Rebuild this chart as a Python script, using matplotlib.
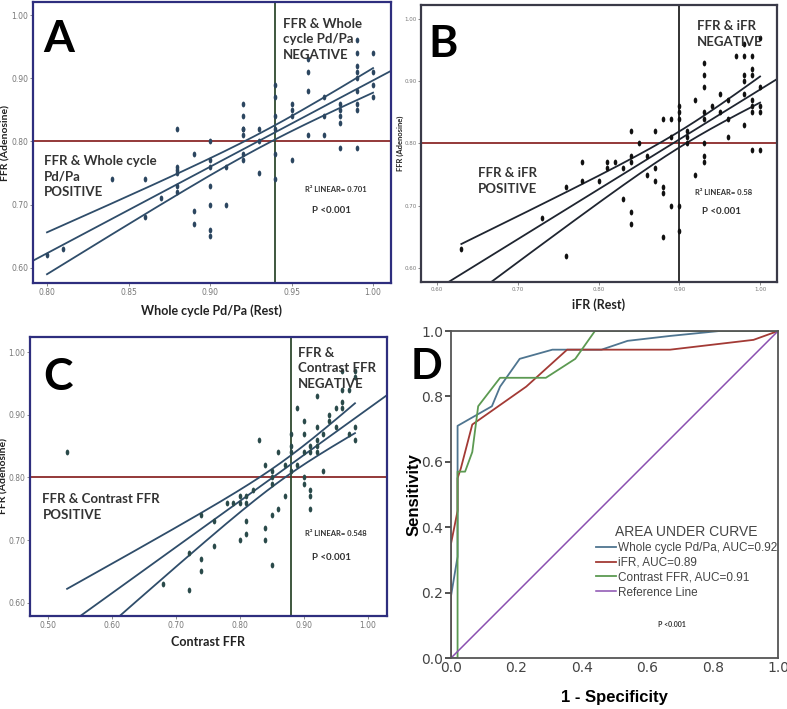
import numpy as np
import matplotlib
matplotlib.use("Agg")
import matplotlib.pyplot as plt

# ---- panel A: whole cycle Pd/Pa vs FFR ----
a_x = [0.80, 0.81, 0.84, 0.86, 0.86, 0.87,
       0.88, 0.88, 0.88, 0.88, 0.88, 0.88,
       0.89, 0.89, 0.89,
       0.90, 0.90, 0.90, 0.90, 0.90, 0.90, 0.90,
       0.91, 0.91,
       0.92, 0.92, 0.92, 0.92, 0.92, 0.92, 0.92,
       0.93, 0.93, 0.93,
       0.94, 0.94, 0.94, 0.94, 0.94, 0.94,
       0.95, 0.95, 0.95, 0.95,
       0.96, 0.96, 0.96, 0.96,
       0.97, 0.97, 0.97,
       0.98, 0.98, 0.98, 0.98, 0.98,
       0.99, 0.99, 0.99, 0.99, 0.99, 0.99, 0.99, 0.99, 0.99,
       1.00, 1.00, 1.00, 1.00]
a_y = [0.62, 0.63, 0.74, 0.74, 0.68, 0.71,
       0.82, 0.76, 0.755, 0.75, 0.73, 0.72,
       0.78, 0.69, 0.67,
       0.80, 0.77, 0.76, 0.73, 0.70, 0.66, 0.65,
       0.76, 0.70,
       0.86, 0.84, 0.82, 0.82, 0.81, 0.78, 0.77,
       0.82, 0.80, 0.75,
       0.89, 0.87, 0.84, 0.82, 0.78, 0.74,
       0.86, 0.85, 0.84, 0.77,
       0.93, 0.91, 0.88, 0.81,
       0.87, 0.84, 0.81,
       0.86, 0.85, 0.84, 0.83, 0.79,
       0.96, 0.94, 0.92, 0.91, 0.90, 0.88, 0.86, 0.85, 0.79,
       0.94, 0.91, 0.89, 0.87]

# ---- panel B: iFR vs FFR ----
b_x = [0.63, 0.73, 0.76, 0.76, 0.78, 0.78, 0.80, 0.81, 0.81, 0.82,
       0.83, 0.83, 0.84, 0.84, 0.84, 0.84, 0.84, 0.85, 0.86, 0.86,
       0.87, 0.87, 0.87, 0.88, 0.88, 0.88, 0.88, 0.89, 0.89, 0.89,
       0.90, 0.90, 0.90, 0.90, 0.90, 0.91, 0.91, 0.91, 0.92, 0.92,
       0.93, 0.93, 0.93, 0.93, 0.93, 0.93, 0.93, 0.93, 0.94, 0.95,
       0.95, 0.96, 0.96, 0.96, 0.97, 0.98, 0.98, 0.98, 0.98, 0.98,
       0.98, 0.99, 0.99, 0.99, 0.99, 0.99, 0.99, 0.99,
       1.00, 1.00, 1.00, 1.00, 1.00]
b_y = [0.63, 0.68, 0.73, 0.62, 0.77, 0.74, 0.74, 0.77, 0.76, 0.77,
       0.76, 0.71, 0.82, 0.78, 0.77, 0.69, 0.67, 0.80, 0.78, 0.75,
       0.82, 0.76, 0.74, 0.84, 0.73, 0.72, 0.65, 0.84, 0.81, 0.70,
       0.86, 0.85, 0.84, 0.70, 0.66, 0.82, 0.81, 0.80, 0.87, 0.75,
       0.93, 0.91, 0.89, 0.85, 0.84, 0.80, 0.78, 0.77, 0.86, 0.88,
       0.85, 0.87, 0.84, 0.81, 0.94, 0.96, 0.94, 0.91, 0.90, 0.88,
       0.83, 0.94, 0.92, 0.91, 0.87, 0.86, 0.85, 0.79,
       0.97, 0.89, 0.86, 0.85, 0.79]

# ---- panel C: contrast FFR vs FFR ----
c_x = [0.53, 0.68, 0.72, 0.72, 0.74, 0.74, 0.74, 0.76, 0.76, 0.78,
       0.79, 0.80, 0.80, 0.80, 0.81, 0.81, 0.81, 0.81, 0.82, 0.83,
       0.84, 0.84, 0.84, 0.85, 0.85, 0.85, 0.85, 0.85, 0.86, 0.86,
       0.87, 0.87, 0.88, 0.88, 0.88, 0.88, 0.89, 0.89, 0.90, 0.90,
       0.90, 0.90, 0.90, 0.91, 0.91, 0.91, 0.91, 0.91, 0.92, 0.92,
       0.92, 0.92, 0.92, 0.93, 0.93, 0.94, 0.94, 0.95, 0.95, 0.96,
       0.96, 0.96, 0.96, 0.97, 0.97, 0.98, 0.98, 0.98, 0.98]
c_y = [0.84, 0.63, 0.62, 0.68, 0.74, 0.67, 0.65, 0.73, 0.69, 0.76,
       0.76, 0.77, 0.76, 0.70, 0.77, 0.76, 0.73, 0.71, 0.78, 0.86,
       0.82, 0.72, 0.70, 0.81, 0.80, 0.79, 0.74, 0.66, 0.84, 0.75,
       0.82, 0.77, 0.87, 0.85, 0.84, 0.81, 0.91, 0.82, 0.89, 0.87,
       0.84, 0.80, 0.79, 0.85, 0.84, 0.78, 0.77, 0.75, 0.93, 0.88,
       0.86, 0.85, 0.84, 0.87, 0.81, 0.90, 0.89, 0.91, 0.88, 0.97,
       0.94, 0.92, 0.91, 0.94, 0.87, 0.97, 0.96, 0.88, 0.86]

# ---- panel D: ROC curves ----
roc_whole_fpr = [0.0, 0.0, 0.02, 0.02, 0.125, 0.15, 0.21, 0.31, 0.46, 0.54, 0.67, 0.82, 1.0]
roc_whole_tpr = [0.0, 0.19, 0.31, 0.71, 0.77, 0.83, 0.915, 0.943, 0.943, 0.97, 0.985, 1.0, 1.0]
roc_ifr_fpr = [0.0, 0.0, 0.02, 0.02, 0.03, 0.065, 0.23, 0.355, 0.67, 0.925, 1.0]
roc_ifr_tpr = [0.0, 0.35, 0.45, 0.55, 0.58, 0.714, 0.83, 0.943, 0.943, 0.973, 1.0]
roc_cffr_fpr = [0.0, 0.02, 0.02, 0.043, 0.065, 0.083, 0.15, 0.29, 0.38, 0.44, 1.0]
roc_cffr_tpr = [0.0, 0.0, 0.57, 0.57, 0.63, 0.77, 0.857, 0.857, 0.915, 1.0, 1.0]
roc_labels = ["Whole cycle Pd/Pa, AUC=0.92", "iFR, AUC=0.89",
              "Contrast FFR, AUC=0.91", "Reference Line"]

TXT = ["Lato", "DejaVu Sans"]

# small upright ellipse like the SPSS dots
th = np.linspace(0, 2 * np.pi, 24)
DOT = list(zip(0.62 * np.cos(th), np.sin(th)))


def scatter_panel(ax, x, y, xlim, ylim, xticks, cut, frame, dot, fitc, cutc):
    x = np.array(x)
    y = np.array(y)
    ax.set_xlim(xlim)
    ax.set_ylim(ylim)
    ax.plot(x, y, linestyle="none", marker=DOT, ms=4.2, mew=0, color=dot, zorder=3)
    ax.axhline(0.80, color="#8b2a2a", lw=1.3, zorder=2)
    ax.axvline(cut, color=cutc, lw=1.3, zorder=2)
    # least squares fit and 95% CI of mean
    b, a = np.polyfit(x, y, 1)
    n = len(x)
    resid = y - (a + b * x)
    s = np.sqrt(np.sum(resid ** 2) / (n - 2))
    sxx = np.sum((x - x.mean()) ** 2)
    xx = np.linspace(xlim[0], xlim[1], 200)
    ax.plot(xx, a + b * xx, color=fitc, lw=1.3, zorder=2)
    xc = np.linspace(x.min(), x.max(), 200)
    half = 1.99 * s * np.sqrt(1.0 / n + (xc - x.mean()) ** 2 / sxx)
    ax.plot(xc, a + b * xc + half, color=fitc, lw=1.3, zorder=2)
    ax.plot(xc, a + b * xc - half, color=fitc, lw=1.3, zorder=2)
    ax.set_xticks(xticks)
    ax.set_xticklabels(["%.2f" % t for t in xticks])
    ax.set_yticks([0.60, 0.70, 0.80, 0.90, 1.00])
    ax.set_yticklabels(["0.60", "0.70", "0.80", "0.90", "1.00"])
    ax.tick_params(labelsize=5.5, colors="#777777", length=2.5, width=0.6, pad=0.8)
    for sp in ax.spines.values():
        sp.set_color(frame)
        sp.set_linewidth(1.6)


fig = plt.figure(figsize=(7.87, 7.09), dpi=100)

# A
axA = fig.add_axes([0.0419, 0.6008, 0.4549, 0.3963])
scatter_panel(axA, a_x, a_y, (0.7914, 1.011), (0.576, 1.0206),
              [0.80, 0.85, 0.90, 0.95, 1.00], 0.94, "#2e2e7e", "#2c4660", "#2f4d6a", "#2f4a2f")
axA.set_xlabel("Whole cycle Pd/Pa (Rest)", fontsize=9, fontweight="bold", family=TXT, color="#222222")
axA.set_ylabel("FFR (Adenosine)", fontsize=7.5, fontweight="bold", family=TXT, color="#222222")
axA.xaxis.set_label_coords(0.5, -0.075)
axA.yaxis.set_label_coords(-0.062, 0.5)
axA.text(0.03, 0.94, "A", transform=axA.transAxes, fontsize=32, fontweight="bold", va="top", family=TXT)
axA.text(0.698, 0.945, "FFR & Whole\ncycle Pd/Pa\nNEGATIVE", transform=axA.transAxes, fontsize=9.5,
         fontweight="bold", va="top", family=TXT, color="#333333", linespacing=1.35)
axA.text(0.03, 0.455, "FFR & Whole cycle\nPd/Pa\nPOSITIVE", transform=axA.transAxes, fontsize=9.5,
         fontweight="bold", va="top", family=TXT, color="#333333", linespacing=1.35)
axA.text(0.76, 0.325, "R² LINEAR= 0.701", transform=axA.transAxes, fontsize=5.5,
         fontweight="bold", family=TXT, color="#333333")
axA.text(0.78, 0.25, "P <0.001", transform=axA.transAxes, fontsize=7,
         fontweight="bold", family=TXT, color="#333333")

# B
axB = fig.add_axes([0.5349, 0.6023, 0.4524, 0.3907])
scatter_panel(axB, b_x, b_y, (0.580, 1.021), (0.5775, 1.0225),
              [0.60, 0.70, 0.80, 0.90, 1.00], 0.90, "#3a3a48", "#111111", "#1f2530", "#222222")
axB.tick_params(labelsize=4)
axB.set_xlabel("iFR (Rest)", fontsize=9, fontweight="bold", family=TXT, color="#222222")
axB.set_ylabel("FFR (Adenosine)", fontsize=5.5, fontweight="bold", family=TXT, color="#222222")
axB.xaxis.set_label_coords(0.5, -0.058)
axB.yaxis.set_label_coords(-0.048, 0.5)
axB.text(0.02, 0.93, "B", transform=axB.transAxes, fontsize=32, fontweight="bold", va="top", family=TXT)
axB.text(0.775, 0.945, "FFR & iFR\nNEGATIVE", transform=axB.transAxes, fontsize=9.5,
         fontweight="bold", va="top", family=TXT, color="#333333", linespacing=1.35)
axB.text(0.16, 0.415, "FFR & iFR\nPOSITIVE", transform=axB.transAxes, fontsize=9.5,
         fontweight="bold", va="top", family=TXT, color="#333333", linespacing=1.35)
axB.text(0.77, 0.315, "R² LINEAR= 0.58", transform=axB.transAxes, fontsize=5.5,
         fontweight="bold", family=TXT, color="#333333")
axB.text(0.79, 0.245, "P <0.001", transform=axB.transAxes, fontsize=7,
         fontweight="bold", family=TXT, color="#333333")

# C
axC = fig.add_axes([0.0381, 0.1312, 0.4536, 0.3935])
scatter_panel(axC, c_x, c_y, (0.472, 1.030), (0.579, 1.024),
              [0.50, 0.60, 0.70, 0.80, 0.90, 1.00], 0.88, "#2e2e7e", "#2a4a4a", "#2f4d6a", "#2f4a2f")
axC.set_xlabel("Contrast FFR", fontsize=9, fontweight="bold", family=TXT, color="#222222")
axC.set_ylabel("FFR (Adenosine)", fontsize=7.5, fontweight="bold", family=TXT, color="#222222")
axC.xaxis.set_label_coords(0.5, -0.07)
axC.yaxis.set_label_coords(-0.06, 0.5)
axC.text(0.036, 0.93, "C", transform=axC.transAxes, fontsize=32, fontweight="bold", va="top", family=TXT)
axC.text(0.75, 0.965, "FFR &\nContrast FFR\nNEGATIVE", transform=axC.transAxes, fontsize=9.5,
         fontweight="bold", va="top", family=TXT, color="#333333", linespacing=1.35)
axC.text(0.035, 0.44, "FFR & Contrast FFR\nPOSITIVE", transform=axC.transAxes, fontsize=9.5,
         fontweight="bold", va="top", family=TXT, color="#333333", linespacing=1.35)
axC.text(0.77, 0.285, "R² LINEAR= 0.548", transform=axC.transAxes, fontsize=5.5,
         fontweight="bold", family=TXT, color="#333333")
axC.text(0.79, 0.20, "P <0.001", transform=axC.transAxes, fontsize=7,
         fontweight="bold", family=TXT, color="#333333")

# D
axD = fig.add_axes([0.5731, 0.0719, 0.4155, 0.4612])
axD.plot(roc_whole_fpr, roc_whole_tpr, color="#4f7590", lw=1.3, label=roc_labels[0])
axD.plot(roc_ifr_fpr, roc_ifr_tpr, color="#a33a35", lw=1.3, label=roc_labels[1])
axD.plot(roc_cffr_fpr, roc_cffr_tpr, color="#5c9a52", lw=1.3, label=roc_labels[2])
axD.plot([0, 1], [0, 1], color="#8a4fb0", lw=1.1, label=roc_labels[3])
axD.set_xlim(0, 1)
axD.set_ylim(0, 1)
ticks = np.arange(0, 1.01, 0.2)
axD.set_xticks(ticks)
axD.set_yticks(ticks)
axD.set_xticklabels(["%.1f" % t for t in ticks])
axD.set_yticklabels(["%.1f" % t for t in ticks])
axD.tick_params(labelsize=10, colors="#333333", labelcolor="#444444")
axD.tick_params(axis="y", length=4, width=1.2, pad=1.5)
axD.tick_params(axis="x", length=0, pad=2)
for sp in axD.spines.values():
    sp.set_color("#555555")
    sp.set_linewidth(1.3)
axD.set_xlabel("1 - Specificity", fontsize=12, fontweight="bold", family="Liberation Sans")
axD.set_ylabel("Sensitivity", fontsize=12, fontweight="bold", family="Liberation Sans")
axD.xaxis.set_label_coords(0.5, -0.098)
axD.yaxis.set_label_coords(-0.09, 0.5)
leg = axD.legend(loc="upper left", bbox_to_anchor=(0.41, 0.44), frameon=False,
                 title="AREA UNDER CURVE", handlelength=1.7, handletextpad=0.2, labelspacing=0.25,
                 prop={"family": "Liberation Sans", "size": 8.5})
leg.get_title().set_fontsize(10)
leg.get_title().set_family("Liberation Sans")
leg.get_title().set_color("#444444")
for t in leg.get_texts():
    t.set_color("#444444")
axD.text(0.676, 0.104, "P <0.001", transform=axD.transAxes, fontsize=5, fontweight="bold",
         family=TXT, color="#333333", ha="center", va="center")
fig.text(427 / 787, 1 - 367 / 709, "D", fontsize=30, fontweight="bold", family=TXT,
         ha="center", va="center")

fig.savefig("out.png", dpi=100)
